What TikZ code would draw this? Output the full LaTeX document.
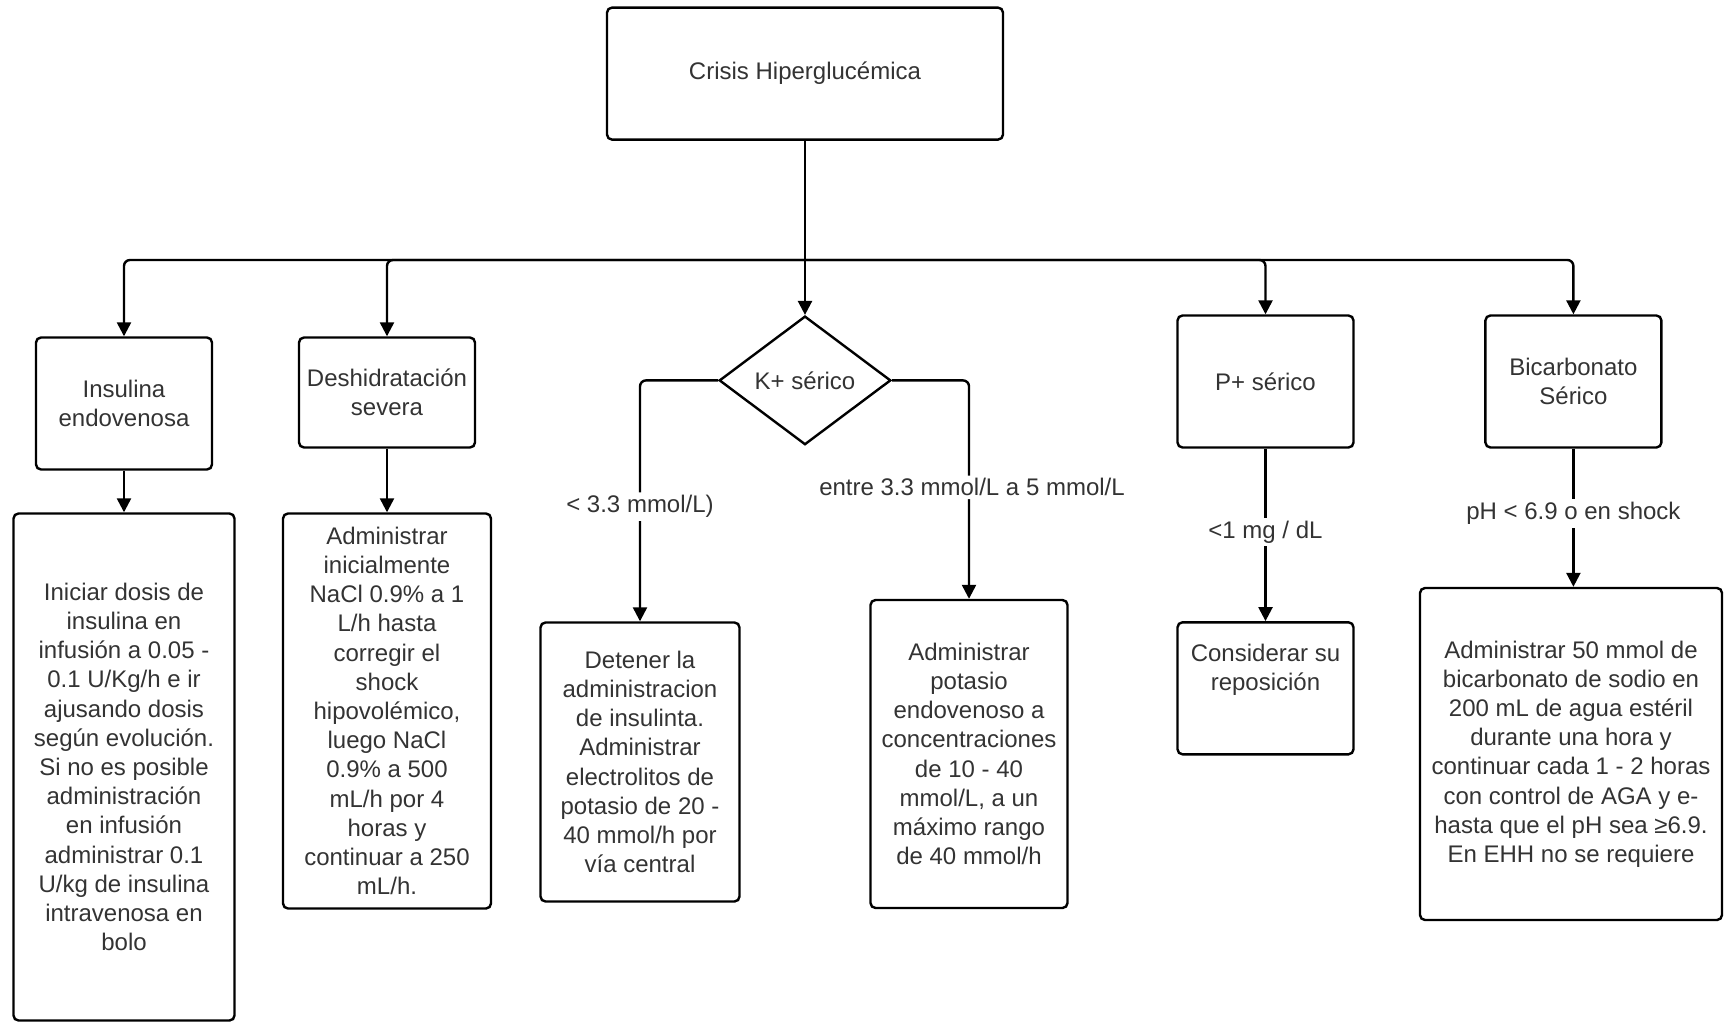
\documentclass[tikz,border=0pt]{standalone}
\usepackage{fontspec}
\setmainfont{Liberation Sans}
\usetikzlibrary{arrows.meta,shapes.geometric}

\tikzset{
  base/.style={draw=black, line width=2.4pt, inner sep=0pt, text=black!80,
    font=\fontsize{24}{29.2}\selectfont, align=center},
  box/.style={base, rectangle, rounded corners=5pt},
  decision/.style={base, diamond},
  conn/.style={draw=black, line width=2.4pt, -{Triangle[width=14pt,length=14pt]}},
  plain/.style={draw=black, line width=2.4pt},
  lbl/.style={fill=white, inner sep=3pt, text=black!80,
    font=\fontsize{24}{29.2}\selectfont}
}

\begin{document}
\begin{tikzpicture}[x=1pt, y=-1pt]
\useasboundingbox (0,0) rectangle (1724,1025);

% root
\node[box, minimum width=396pt, minimum height=132pt] (root) at (805,73.6) {Crisis Hiperglucémica};

% second level
\node[box, minimum width=176pt, minimum height=132pt] (ins) at (124,403.5) {Insulina\\endovenosa};
\node[box, minimum width=176pt, minimum height=110pt] (des) at (387,392.5) {Deshidratación\\severa};
\node[decision, minimum width=171.6pt, minimum height=128.6pt] (k) at (805,380.4) {K+ sérico};
\node[box, minimum width=176pt, minimum height=132pt] (p) at (1265.5,381.5) {P+ sérico};
\node[box, minimum width=176pt, minimum height=132pt] (bic) at (1573.4,381.5) {Bicarbonato\\Sérico};

% third level
\node[box, minimum width=221pt, minimum height=507pt] (insd) at (124,767) {Iniciar dosis de\\insulina en\\infusión a 0.05 -\\0.1 U/Kg/h e ir\\ajusando dosis\\según evolución.\\Si no es posible\\administración\\en infusión\\administrar 0.1\\U/kg de insulina\\intravenosa en\\bolo};
\node[box, minimum width=208pt, minimum height=395pt] (desd) at (387,711) {Administrar\\inicialmente\\NaCl 0.9\% a 1\\L/h hasta\\corregir el\\shock\\hipovolémico,\\luego NaCl\\0.9\% a 500\\mL/h por 4\\horas y\\continuar a 250\\mL/h.};
\node[box, minimum width=199pt, minimum height=279pt] (det) at (640,762) {Detener la\\administracion\\de insulinta.\\Administrar\\electrolitos de\\potasio de 20 -\\40 mmol/h por\\vía central};
\node[box, minimum width=197pt, minimum height=308pt] (pot) at (969,754) {Administrar\\potasio\\endovenoso a\\concentraciones\\de 10 - 40\\mmol/L, a un\\máximo rango\\de 40 mmol/h};
\node[box, minimum width=176pt, minimum height=132pt] (cons) at (1265.5,688.3) {};
\node[base, draw=none] (constext) at (1265.5,670) {Considerar su\\reposición};
\node[box, minimum width=302pt, minimum height=332pt] (bicd) at (1571,754) {Administrar 50 mmol de\\bicarbonato de sodio en\\200 mL de agua estéril\\durante una hora y\\continuar cada 1 - 2 horas\\con control de AGA y e-\\hasta que el pH sea ≥6.9.\\En EHH no se requiere};

% distribution bus below the root
\coordinate (bus) at (805,260);
\draw[plain] (root.south) -- (root.south |- bus);
\draw[conn, rounded corners=6pt] (root.south |- bus) -| (ins.north);
\draw[conn, rounded corners=6pt] (root.south |- bus) -| (des.north);
\draw[conn] (root.south) -- (k.north);
\draw[conn, rounded corners=6pt] (root.south |- bus) -| (p.north);
\draw[conn, rounded corners=6pt] (root.south |- bus) -| (bic.north);

% branches
\draw[conn] (ins.south) -- (ins.south |- insd.north);
\draw[conn] (des.south) -- (des.south |- desd.north);
\draw[conn, rounded corners=6pt] (k.west) -| node[lbl, pos=0.762] (lk1) {< 3.3 mmol/L)} (det.north);
\draw[conn, rounded corners=6pt] (k.east) -| node[lbl, pos=0.745, xshift=3pt] (lk2) {entre 3.3 mmol/L a 5 mmol/L} (pot.north);
\draw[conn] (p.south) -- node[lbl, pos=0.483] (lp) {<1 mg / dL} (p.south |- cons.north);
\draw[conn] (bic.south) -- node[lbl, pos=0.469] (lb) {pH < 6.9 o en shock} (bic.south |- bicd.north);
\end{tikzpicture}
\end{document}
